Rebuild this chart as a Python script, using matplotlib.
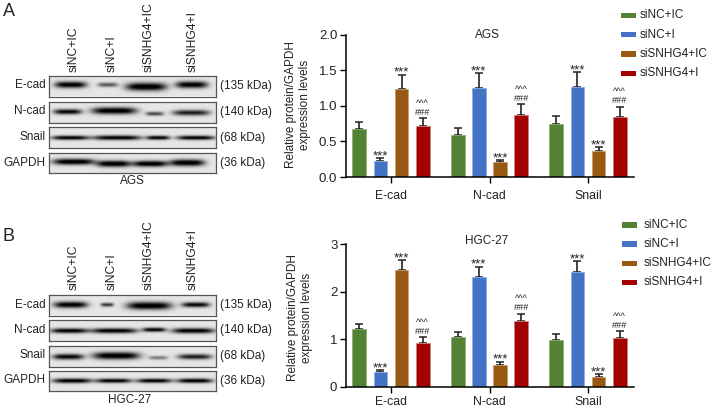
import matplotlib
matplotlib.use('Agg')
import matplotlib.pyplot as plt
import numpy as np

plt.rcParams['font.family'] = ['Liberation Sans', 'DejaVu Sans']

W, H = 716, 409

groups = ['E-cad', 'N-cad', 'Snail']
series = ['siNC+IC', 'siNC+I', 'siSNHG4+IC', 'siSNHG4+I']
colors = ['#548235', '#4472C4', '#985A12', '#A50000']
edge_colors = ['#8FAE78', '#8FB0E4', '#C9A070', '#D08080']

ags_vals = [[0.67, 0.59, 0.74], [0.23, 1.25, 1.26], [1.24, 0.21, 0.36], [0.71, 0.87, 0.85]]
ags_errs = [[0.11, 0.10, 0.12], [0.04, 0.21, 0.21], [0.20, 0.03, 0.06], [0.12, 0.15, 0.14]]
hgc_vals = [[1.21, 1.05, 0.98], [0.31, 2.32, 2.42], [2.45, 0.45, 0.20], [0.92, 1.39, 1.02]]
hgc_errs = [[0.11, 0.10, 0.12], [0.04, 0.21, 0.22], [0.21, 0.08, 0.06], [0.12, 0.15, 0.15]]

# which bars get which marks: 1 = ***, 2 = ^^^ over ###
marks = [[0, 0, 0], [1, 1, 1], [1, 1, 1], [2, 2, 2]]

blot_rows = ['E-cad', 'N-cad', 'Snail', 'GAPDH']
kda = ['(135 kDa)', '(140 kDa)', '(68 kDa)', '(36 kDa)']

# bands per blot row: left x, right x, half height, darkness, y shift (figure pixels)
ags_bands = [
    [(54, 86, 3.2, 1.0, -1), (97, 117, 2.2, .6, -1), (125, 166, 4.0, 1.05, 1), (175, 207, 3.4, 1.0, -1)],
    [(53, 81, 2.6, .95, -1), (91, 136, 3.4, 1.05, -2), (145, 163, 2.0, .65, 1), (172, 209, 2.8, .85, 0)],
    [(51, 88, 2.1, 1.0, 0), (92, 141, 2.3, 1.0, 0), (146, 169, 2.0, 1.0, 0), (176, 214, 2.1, 1.0, 0)],
    [(52, 94, 3.0, 1.05, -1), (96, 130, 3.2, 1.05, 1), (132, 167, 3.0, 1.05, 1), (169, 204, 3.3, 1.05, 0)],
]
hgc_bands = [
    [(53, 87, 3.2, 1.0, 0), (100, 113, 1.9, .75, 0), (126, 171, 3.8, 1.05, 1), (181, 209, 2.5, .95, 0)],
    [(50, 87, 2.4, 1.0, 0), (90, 137, 2.5, 1.0, 0), (142, 165, 2.1, 1.0, -1), (171, 214, 2.6, 1.0, 0)],
    [(52, 83, 2.8, .95, 0), (92, 139, 3.6, 1.05, -1), (148, 167, 1.9, .45, 1), (177, 211, 2.6, .85, 0)],
    [(52, 91, 2.3, 1.0, 0), (95, 131, 2.1, 1.0, 0), (136, 171, 2.1, 1.0, 0), (176, 212, 2.2, 1.0, 0)],
]


def px_axes(x0, y0, x1, y1):
    return plt.gcf().add_axes([x0 / W, 1 - y1 / H, (x1 - x0) / W, (y1 - y0) / H])


def label(x, y, s, size=8.5, **kw):
    kw.setdefault('ha', 'left')
    kw.setdefault('va', 'center')
    plt.gcf().text(x / W, 1 - y / H, s, fontsize=size, color='#222222', **kw)


def draw_blot(rows_y, bands, lane_x, lane_base, caption, cap_x, cap_y, letter, letter_y):
    x0, x1 = 48.5, 215.5
    for i, (y0, y1) in enumerate(rows_y):
        ax = px_axes(x0, y0, x1, y1)
        xx, yy = np.meshgrid(np.arange(x0, x1, .5), np.arange(y0, y1, .5))
        img = np.full(xx.shape, 0.9)
        yc = (y0 + y1) / 2
        for xa, xb, hh, d, dy in bands[i]:
            cx, hw = (xa + xb) / 2, (xb - xa) / 2
            img -= 0.95 * d * np.exp(-((xx - cx) / hw) ** 4 - ((yy - yc - dy) / hh) ** 2)
        ax.imshow(np.clip(img, 0, 1), cmap='gray', vmin=0, vmax=1, aspect='auto',
                  interpolation='bilinear')
        ax.set_xticks([])
        ax.set_yticks([])
        for s in ax.spines.values():
            s.set_linewidth(0.9)
            s.set_color('#555555')
        label(45.5, yc - 0.5, blot_rows[i], ha='right')
        label(220, yc, kda[i])
    for x, s in zip(lane_x, series):
        label(x, lane_base, s, size=8.7, rotation=90, ha='center', va='bottom')
    label(cap_x, cap_y, caption, ha='center')
    label(3, letter_y, letter, size=13)


def draw_bars(y_top, y_bot, ymax, yticks, ylabels, vals, errs, title, title_y, xpad):
    ax = px_axes(345.7, y_top, 634, y_bot)
    x = np.arange(len(groups))
    offs = [-1.5, -0.5, 0.5, 1.5]
    for k in range(4):
        xs = x + offs[k] * 0.215
        ax.bar(xs, vals[k], 0.138, color=colors[k], edgecolor=edge_colors[k], linewidth=0.6, zorder=2)
        ax.errorbar(xs, vals[k], yerr=[[0] * 3, errs[k]], fmt='none', ecolor='#222222',
                    elinewidth=1.2, capsize=2.6, capthick=1.1, zorder=1)
        for j in range(3):
            top = vals[k][j] + errs[k][j]
            if marks[k][j] == 1:
                ax.annotate('***', (xs[j], top), xytext=(0, -3), textcoords='offset points',
                            ha='center', va='bottom', fontsize=9.5, color='#222222')
            elif marks[k][j] == 2:
                ax.annotate('^^^\n###', (xs[j], top), xytext=(0, 1), textcoords='offset points',
                            ha='center', va='bottom', fontsize=6.6, color='#222222', linespacing=1.0)
    ax.set_xlim(-0.46, 2.467)
    ax.set_ylim(0, ymax)
    ax.set_xticks(x)
    ax.set_xticklabels(groups)
    ax.set_yticks(yticks)
    ax.set_yticklabels(ylabels)
    ax.tick_params(labelsize=9.5, width=1, length=4, labelcolor='#222222', pad=2)
    ax.tick_params(axis='x', labelsize=8.8, pad=xpad)
    for s in ('top', 'right'):
        ax.spines[s].set_visible(False)
    for s in ('left', 'bottom'):
        ax.spines[s].set_linewidth(1.1)
    ax.patch.set_alpha(0)
    label(487, title_y, title, ha='center')
    return ax


def draw_legend(x_patch, x_text, ys):
    ax = px_axes(0, 0, W, H)
    ax.set_xlim(0, W)
    ax.set_ylim(H, 0)
    ax.axis('off')
    for y, c, s in zip(ys, colors, series):
        ax.fill_between([x_patch, x_patch + 15.5], y - 2.8, y + 2.8, color=c, lw=0)
        label(x_text, y, s)


fig = plt.figure(figsize=(W / 100, H / 100), dpi=100)

draw_legend(620.7, 640, [15.5, 34.5, 53.7, 73.3])
draw_legend(621.7, 644, [225, 244, 263.3, 282.3])

lanes = [74, 112, 149, 193]
draw_blot([(75.5, 96.5), (101.5, 122.5), (127, 148), (152.5, 173.5)], ags_bands,
          lanes, 72, 'AGS', 132, 181, 'A', 12)
draw_blot([(294.5, 315.5), (320, 341), (345.5, 366.5), (370.5, 391)], hgc_bands,
          lanes, 290, 'HGC-27', 130, 400, 'B', 237)

draw_bars(34.7, 177, 2.0, [0, .5, 1, 1.5, 2], ['0.0', '0.5', '1.0', '1.5', '2.0'],
          ags_vals, ags_errs, 'AGS', 35, 5)
draw_bars(244.3, 386.7, 3, [0, 1, 2, 3], ['0', '1', '2', '3'],
          hgc_vals, hgc_errs, 'HGC-27', 241, 2.5)

label(298, 105, 'Relative protein/GAPDH\nexpression levels', rotation=90, ha='center', linespacing=1.25)
label(300, 318, 'Relative protein/GAPDH\nexpression levels', rotation=90, ha='center', linespacing=1.25)

fig.savefig('out.png', dpi=100)
